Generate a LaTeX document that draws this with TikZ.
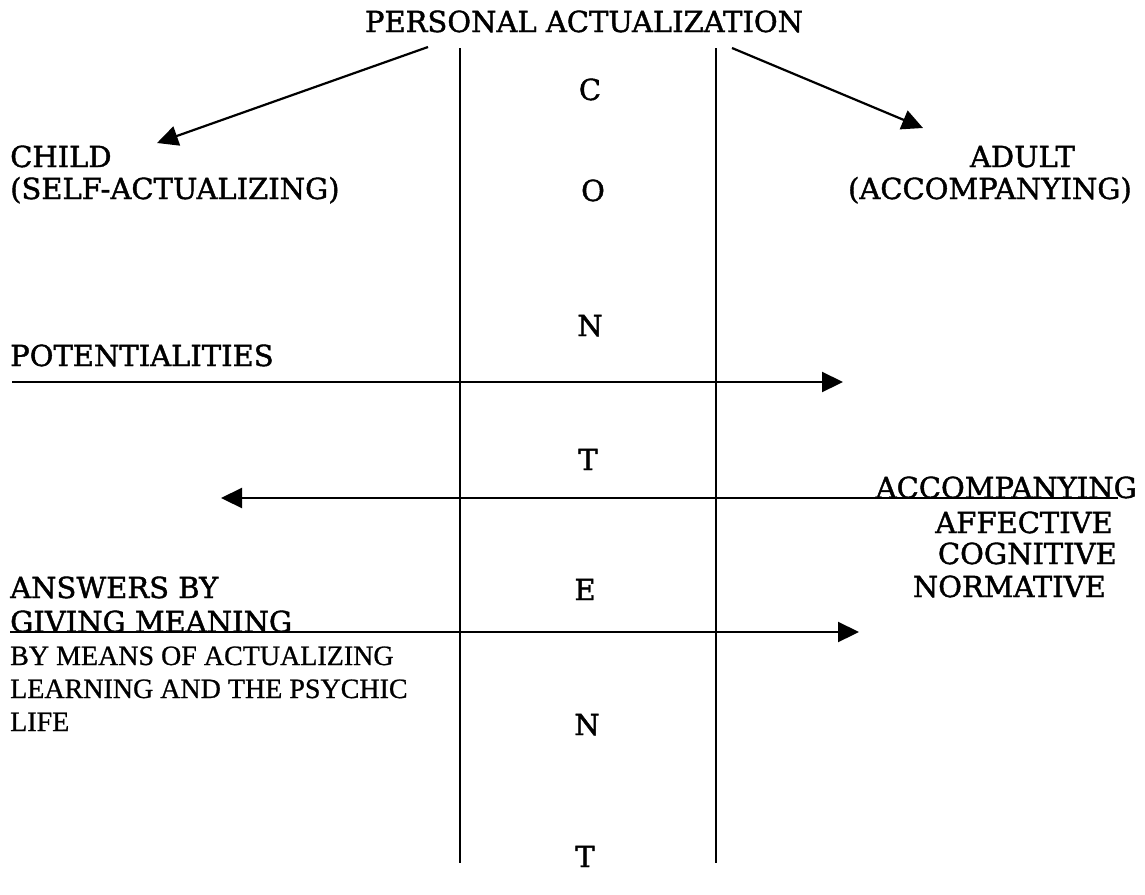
\documentclass[tikz,border=0pt]{standalone}
\usepackage{fontspec}
\newfontfamily\heavyf{DejaVu Serif}[FakeBold=1.4]
\newfontfamily\timesf{Liberation Serif}[FakeBold=0.8]
\usetikzlibrary{arrows.meta}
\begin{document}
\begin{tikzpicture}[x=1pt,y=-1pt,
  lbl/.style={inner sep=0pt,font=\heavyf\fontsize{29}{32}\selectfont},
  small/.style={inner sep=0pt,font=\timesf\fontsize{28}{32}\selectfont},
  arr/.style={line width=2.2pt,-{Triangle[length=21pt,width=20pt]}},
  vline/.style={line width=2.2pt}]
\useasboundingbox (0,0) rectangle (1145,894);
% title
\node[lbl,anchor=base] (title) at (584,32) {PERSONAL ACTUALIZATION};
% vertical lines
\coordinate (v1t) at (460,48); \coordinate (v1b) at (460,863);
\coordinate (v2t) at (716,48); \coordinate (v2b) at (716,863);
\draw[vline] (v1t) -- (v1b);
\draw[vline] (v2t) -- (v2b);
% CONTENT
\node[lbl,anchor=base] (c1) at (590,100) {C};
\node[lbl,anchor=base] (c2) at (593,201) {O};
\node[lbl,anchor=base] (c3) at (590,336) {N};
\node[lbl,anchor=base] (c4) at (588,470) {T};
\node[lbl,anchor=base] (c5) at (585,600) {E};
\node[lbl,anchor=base] (c6) at (587,735) {N};
\node[lbl,anchor=base] (c7) at (585,867) {T};
% child / adult
\node[lbl,anchor=base west] (child) at (10,167) {CHILD};
\node[lbl,anchor=base west] (childsub) at (10,199) {(SELF-ACTUALIZING)};
\node[lbl,anchor=base east] (adult) at (1075,167) {ADULT};
\node[lbl,anchor=base east] (adultsub) at (1132,199) {(ACCOMPANYING)};
% diagonal arrows
\coordinate (d1s) at (428,47); \coordinate (d1e) at (157,143);
\coordinate (d2s) at (732,48); \coordinate (d2e) at (923,128);
\draw[arr] (d1s) -- (d1e);
\draw[arr] (d2s) -- (d2e);
% potentialities
\node[lbl,anchor=base west] (pot) at (10,366) {POTENTIALITIES};
\coordinate (h1s) at (12,382); \coordinate (h1e) at (843,382);
\draw[arr] (h1s) -- (h1e);
% accompanying
\coordinate (h2s) at (1118,498); \coordinate (h2e) at (221,498);
\draw[arr] (h2s) -- (h2e);
\node[lbl,anchor=base east] (acc) at (1137,498) {ACCOMPANYING};
\node[lbl,anchor=base east] (aff) at (1113,533) {AFFECTIVE};
\node[lbl,anchor=base east] (cog) at (1117,564) {COGNITIVE};
\node[lbl,anchor=base east] (nor) at (1106,597) {NORMATIVE};
% answers
\node[lbl,anchor=base west] (ans) at (10,598) {ANSWERS BY};
\node[lbl,anchor=base west] (giv) at (10,632) {GIVING MEANING};
\coordinate (h3s) at (10,632); \coordinate (h3e) at (859,632);
\draw[arr] (h3s) -- (h3e);
\node[small,anchor=base west] (m1) at (10,665) {BY MEANS OF ACTUALIZING};
\node[small,anchor=base west] (m2) at (10,698) {LEARNING AND THE PSYCHIC};
\node[small,anchor=base west] (m3) at (10,731) {LIFE};
\end{tikzpicture}
\end{document}
